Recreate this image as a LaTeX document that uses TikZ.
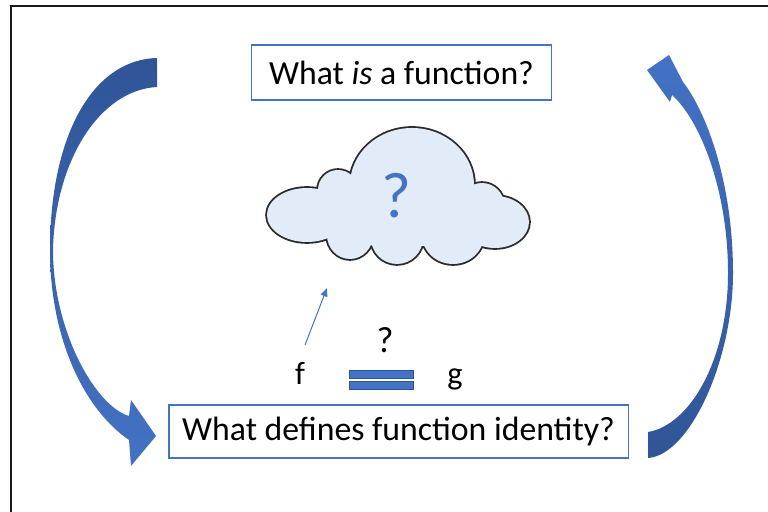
\documentclass[tikz,border=0pt]{standalone}
\usepackage{fontspec}
\setmainfont{Carlito}
\usetikzlibrary{arrows.meta}
\definecolor{qblue}{HTML}{4472C4}
\definecolor{qdark}{HTML}{2F5597}
\definecolor{cloudfill}{HTML}{E2ECF9}
\definecolor{cloudline}{HTML}{2B2B2B}

\begin{document}
\begin{tikzpicture}[
  x=0.025cm, y=0.025cm,
  question/.style={draw=qblue, line width=0.8pt, inner sep=0pt,
    font=\fontsize{24}{28}\selectfont},
  sym/.style={font=\fontsize{23}{27}\selectfont, inner sep=0pt, anchor=base},
  bar/.style={draw=qdark, fill=qblue, line width=0.4pt, inner sep=0pt,
    minimum width=1.6cm, minimum height=0.2cm}
]
  \useasboundingbox (0,0) rectangle (768,512);
  \draw[line width=1.2pt, black!90] (11,0) -- (11,506) -- (768,506);

  \foreach \cx/\cy/\rx/\ry in {307/297/40/27, 338/322/20/20, 412/327/62/57,
      482/307/22/22, 495/290/34/26, 453/277/31/29, 397/274/26/26,
      350/277/23/24, 400/297/90/32}
    \draw[cloudline, line width=2.6pt] (\cx,\cy) ellipse [x radius=\rx, y radius=\ry];
  \foreach \cx/\cy/\rx/\ry in {307/297/40/27, 338/322/20/20, 412/327/62/57,
      482/307/22/22, 495/290/34/26, 453/277/31/29, 397/274/26/26,
      350/277/23/24, 400/297/90/32}
    \fill[cloudfill] (\cx,\cy) ellipse [x radius=\rx, y radius=\ry];
  \node[text=qblue, font=\fontsize{46}{52}\selectfont] (cloudq) at (396,316) {?};

  \node[question, minimum width=7.5cm, minimum height=1.375cm] (isfun)
    at (401.5,439.5) {What \textit{is} a function?};
  \node[question, minimum width=11.475cm, minimum height=1.325cm] (ident)
    at (398.5,80.5) {What defines function identity?};

  \node[sym] (f) at (300,127) {f};
  \node[sym] (g) at (455,127) {g};
  \node[sym, font=\fontsize{26}{30}\selectfont] (eqq) at (385,159) {?};
  \node[bar] (eqtop) at (381,138) {};
  \node[bar] (eqbot) at (381,127) {};

  \coordinate (tail) at (305,167);
  \coordinate (head) at (327,224);
  \draw[qblue, line width=0.7pt, -{Triangle[length=6pt, width=5pt]}] (tail) -- (head);

  \shade[top color=qdark, bottom color=qblue]
    (157,454) .. controls (90,452) and (50,372) .. (50,262)
    .. controls (50,172) and (85,102) .. (129,72)
    -- (131,46) -- (156,76) -- (131,112) -- (129,96)
    .. controls (95,106) and (53,182) .. (53,262)
    .. controls (55,352) and (100,422) .. (157,425) -- cycle;
  \shade[top color=qblue, bottom color=qdark]
    (648,54) .. controls (690,57) and (733,152) .. (733,239)
    .. controls (733,332) and (705,402) .. (683,430)
    -- (669,457) -- (647,442) -- (670,410) -- (672,417)
    .. controls (700,392) and (728,322) .. (728,239)
    .. controls (728,152) and (690,87) .. (648,80) -- cycle;
\end{tikzpicture}
\end{document}
